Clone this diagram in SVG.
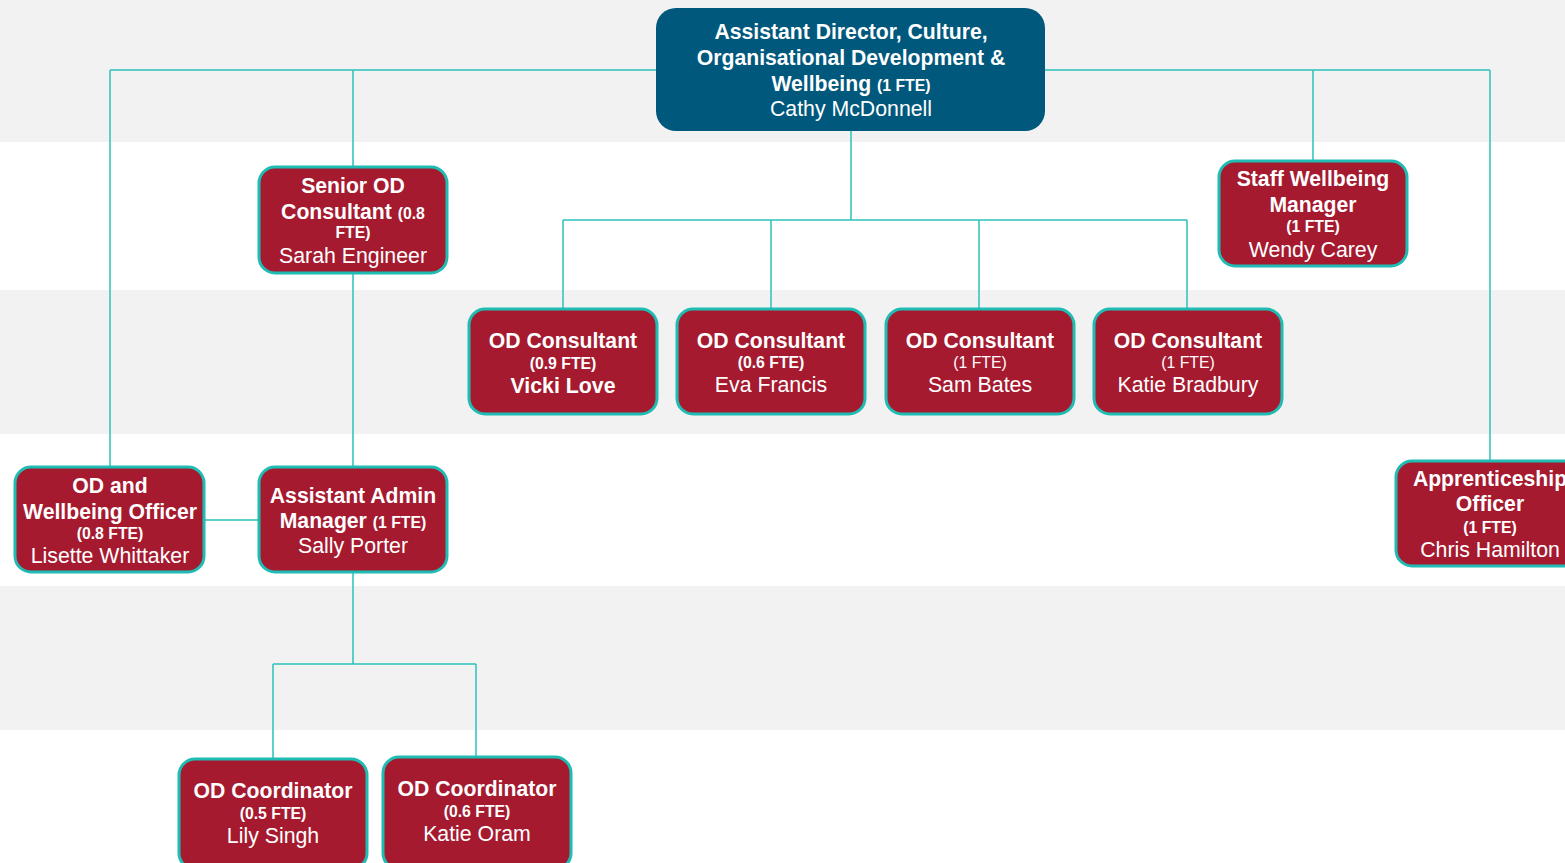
<svg xmlns="http://www.w3.org/2000/svg" width="1565" height="863" viewBox="0 0 1565 863">
<style>
text{font-family:"Liberation Sans",Arial,sans-serif;fill:#fff;text-anchor:middle}
.t{font-weight:bold;font-size:21.2px}
.f{font-weight:bold;font-size:15.8px}
.fr{font-size:15.8px}
.n{font-size:21.3px}
.nb{font-size:21.3px;font-weight:bold}
.box{fill:#a51a2f;stroke:#1fbcb4;stroke-width:3}
.top{fill:#00587c}
.c{stroke:#2cc1b9;stroke-width:1.5;fill:none}
</style>
<rect x="0" y="0" width="1565" height="863" fill="#fff"/>
<rect x="0" y="0" width="1565" height="142" fill="#f2f2f2"/>
<rect x="0" y="290" width="1565" height="144" fill="#f2f2f2"/>
<rect x="0" y="586" width="1565" height="144" fill="#f2f2f2"/>
<g id="connectors">
<path class="c" d="M110,70H656M1045,70H1490M110,70V467M353,70V167M1313,70V161M1490,70V461"/>
<path class="c" d="M851,131V220M563,220H1187M563,220V309M771,220V309M979,220V309M1187,220V309"/>
<path class="c" d="M353,273V467M204,520H259M353,572V664M273,664H476M273,664V759M476,664V757"/>
</g>
<g id="n-director">
<rect class="top" x="656" y="8" width="389" height="123" rx="20"/>
<text class="t" x="851" y="39">Assistant Director, Culture,</text>
<text class="t" x="851" y="65">Organisational Development &amp;</text>
<text class="t" x="851" y="91">Wellbeing <tspan class="f">(1 FTE)</tspan></text>
<text class="n" x="851" y="116">Cathy McDonnell</text>
</g>
<g id="n-senior">
<rect class="box" x="259" y="167" width="188" height="106" rx="16"/>
<text class="t" x="353" y="193">Senior OD</text>
<text class="t" x="353" y="219">Consultant <tspan class="f">(0.8</tspan></text>
<text class="f" x="353" y="238">FTE)</text>
<text class="n" x="353" y="263">Sarah Engineer</text>
</g>
<g id="n-staffwb">
<rect class="box" x="1219" y="161" width="188" height="105" rx="16"/>
<text class="t" x="1313" y="186">Staff Wellbeing</text>
<text class="t" x="1313" y="212">Manager</text>
<text class="f" x="1313" y="232">(1 FTE)</text>
<text class="n" x="1313" y="257">Wendy Carey</text>
</g>
<g id="n-vicki">
<rect class="box" x="469" y="309" width="188" height="105" rx="16"/>
<text class="t" x="563" y="348">OD Consultant</text>
<text class="f" x="563" y="369">(0.9 FTE)</text>
<text class="nb" x="563" y="393">Vicki Love</text>
</g>
<g id="n-eva">
<rect class="box" x="677" y="309" width="188" height="105" rx="16"/>
<text class="t" x="771" y="348">OD Consultant</text>
<text class="f" x="771" y="368">(0.6 FTE)</text>
<text class="n" x="771" y="392">Eva Francis</text>
</g>
<g id="n-sam">
<rect class="box" x="886" y="309" width="188" height="105" rx="16"/>
<text class="t" x="980" y="348">OD Consultant</text>
<text class="fr" x="980" y="368">(1 FTE)</text>
<text class="n" x="980" y="392">Sam Bates</text>
</g>
<g id="n-katieb">
<rect class="box" x="1094" y="309" width="188" height="105" rx="16"/>
<text class="t" x="1188" y="348">OD Consultant</text>
<text class="fr" x="1188" y="368">(1 FTE)</text>
<text class="n" x="1188" y="392">Katie Bradbury</text>
</g>
<g id="n-odwb">
<rect class="box" x="15" y="467" width="189" height="105" rx="16"/>
<text class="t" x="110" y="493">OD and</text>
<text class="t" x="110" y="519">Wellbeing Officer</text>
<text class="f" x="110" y="539">(0.8 FTE)</text>
<text class="n" x="110" y="563">Lisette Whittaker</text>
</g>
<g id="n-admin">
<rect class="box" x="259" y="467" width="188" height="105" rx="16"/>
<text class="t" x="353" y="503">Assistant Admin</text>
<text class="t" x="353" y="528">Manager <tspan class="f">(1 FTE)</tspan></text>
<text class="n" x="353" y="553">Sally Porter</text>
</g>
<g id="n-appr">
<rect class="box" x="1396" y="461" width="188" height="105" rx="16"/>
<text class="t" x="1490" y="486">Apprenticeship</text>
<text class="t" x="1490" y="511">Officer</text>
<text class="f" x="1490" y="533">(1 FTE)</text>
<text class="n" x="1490" y="557">Chris Hamilton</text>
</g>
<g id="n-lily">
<rect class="box" x="179" y="759" width="188" height="110" rx="16"/>
<text class="t" x="273" y="798">OD Coordinator</text>
<text class="f" x="273" y="819">(0.5 FTE)</text>
<text class="n" x="273" y="843">Lily Singh</text>
</g>
<g id="n-katieo">
<rect class="box" x="383" y="757" width="188" height="112" rx="16"/>
<text class="t" x="477" y="796">OD Coordinator</text>
<text class="f" x="477" y="817">(0.6 FTE)</text>
<text class="n" x="477" y="841">Katie Oram</text>
</g>
</svg>
